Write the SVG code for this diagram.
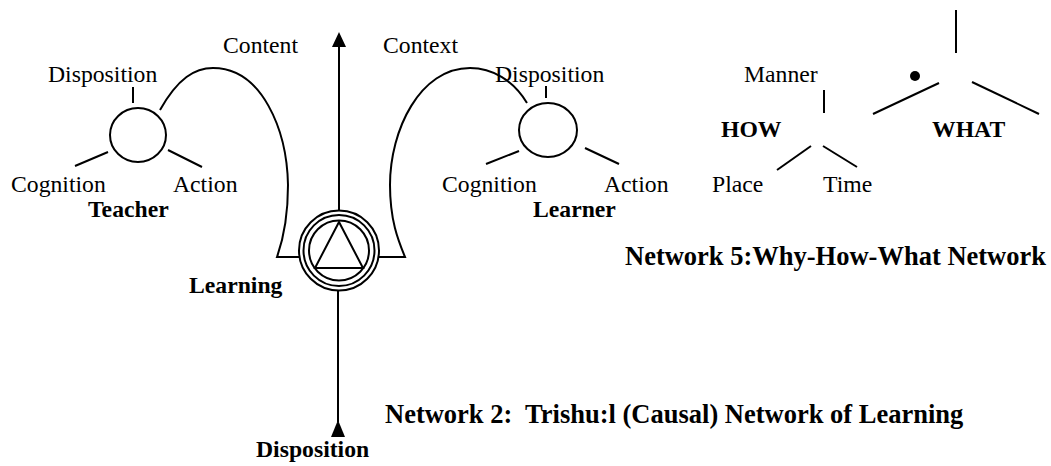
<svg xmlns="http://www.w3.org/2000/svg" width="1051" height="466" viewBox="0 0 1051 466">
<style>
text{font-family:"Liberation Serif","Times New Roman",serif;font-size:23.7px;fill:#000}
.b{font-weight:bold}
.t{font-weight:bold;font-size:26.5px}
.s{fill:none;stroke:#000;stroke-width:2}
</style>
<rect width="1051" height="466" fill="#fff"/>

<g id="connectors">
<path class="s" d="M160,110 C178,78 195,68 213,68 C262,68 287,130 288,185 C288,220 283,240 277,257 L299,257"/>
<path class="s" d="M527,103 C513,80 492,68 470,68 C420,68 390,130 390,185 C390,220 398,240 405,257 L379,257"/>
<line class="s" x1="339" y1="210" x2="339" y2="34"/>
<path d="M332,47 L339,32 L346,47 Z" fill="#000"/>
<line class="s" x1="338" y1="291" x2="338" y2="422"/>
<path d="M331,437 L338,420 L345,437 Z" fill="#000"/>
</g>

<g id="teacher">
<ellipse class="s" cx="138" cy="135" rx="28" ry="27"/>
<line class="s" x1="133" y1="87" x2="133" y2="103"/>
<line class="s" x1="75" y1="166" x2="108" y2="152"/>
<line class="s" x1="168" y1="150" x2="202" y2="167"/>
<text x="48" y="82">Disposition</text>
<text x="11" y="192">Cognition</text>
<text x="173" y="192">Action</text>
<text class="b" x="88" y="217">Teacher</text>
</g>

<g id="learner">
<ellipse class="s" cx="548" cy="130" rx="29" ry="27"/>
<line class="s" x1="546" y1="86" x2="546" y2="98"/>
<line class="s" x1="486" y1="164" x2="519" y2="151"/>
<line class="s" x1="585" y1="148" x2="619" y2="164"/>
<text x="495" y="82">Disposition</text>
<text x="442" y="192">Cognition</text>
<text x="604" y="192">Action</text>
<text class="b" x="533" y="217">Learner</text>
</g>

<g id="learning">
<circle class="s" cx="339" cy="250.5" r="40"/>
<circle class="s" cx="339" cy="250.5" r="35.5"/>
<circle class="s" cx="339" cy="250.5" r="30"/>
<path class="s" d="M339,222 L315,268 L363,268 Z"/>
<text class="b" x="189" y="293">Learning</text>
</g>

<g id="labels">
<text x="223" y="53">Content</text>
<text x="383" y="53">Context</text>
<text class="b" x="256" y="457">Disposition</text>
<text class="t" x="385" y="423" xml:space="preserve">Network 2:  Trishu:l (Causal) Network of Learning</text>
</g>

<g id="how">
<line class="s" x1="824" y1="90" x2="824" y2="113"/>
<line class="s" x1="777" y1="170" x2="811" y2="146"/>
<line class="s" x1="823" y1="146" x2="857" y2="167"/>
<text x="744" y="82">Manner</text>
<text class="b" x="721" y="137">HOW</text>
<text x="712" y="192">Place</text>
<text x="823" y="192">Time</text>
</g>

<g id="what">
<line class="s" x1="956" y1="10" x2="956" y2="53"/>
<circle cx="915" cy="76" r="5" fill="#000"/>
<line class="s" x1="873" y1="114" x2="939" y2="83"/>
<line class="s" x1="972" y1="82" x2="1039" y2="114"/>
<text class="b" x="932" y="137">WHAT</text>
</g>

<g id="title5">
<text class="t" x="625" y="265">Network 5:Why-How-What Network</text>
</g>
</svg>
